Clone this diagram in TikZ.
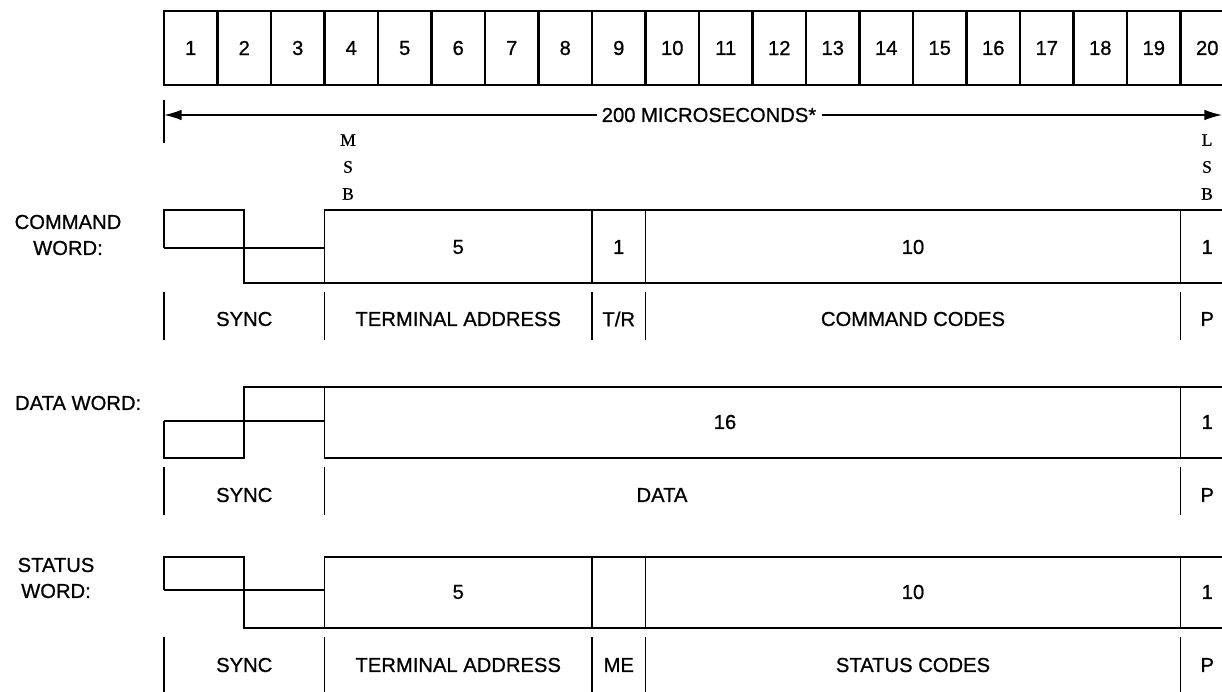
\documentclass[tikz,border=0pt]{standalone}
\usepackage{fontspec}
\setmainfont{Liberation Sans}
\newfontfamily\wordfont{Liberation Sans}[FakeBold=0.8]
\newfontfamily\bitfont{Liberation Serif}[FakeBold=0.6]
\usetikzlibrary{arrows.meta, positioning, calc}
\newcommand{\cellx}{164}
\newcommand{\cellw}{53.5}

\begin{document}
\begin{tikzpicture}[x=0.02cm, y=-0.02cm,
  txt/.style={font=\wordfont\fontsize{11.5}{14.8}\selectfont, inner sep=1pt},
  ltr/.style={font=\bitfont\fontsize{10}{12}\selectfont, inner sep=0pt},
  cell/.style={line width=1.3pt},
  sig/.style={line width=1.1pt},
  bar/.style={line width=1.1pt}]
  \useasboundingbox (0,0) rectangle (1222,692);
  % bit cells
  \foreach \i in {1,...,20}{
    \draw[cell] ({\cellx+(\i-1)*\cellw},11) rectangle +(\cellw,74);
    \node[txt] (bit\i) at ({\cellx+(\i-0.5)*\cellw},48) {\i};
  }
  % word length
  \coordinate (spanL) at (\cellx,115);
  \coordinate (spanR) at (1222,115);
  \draw[bar] (\cellx,100) -- (\cellx,143);
  \draw[line width=0.9pt, {Latex[length=10pt,width=6pt]}-{Latex[length=10pt,width=6pt]}] (spanL) -- (spanR);
  \node[txt, fill=white, inner xsep=3pt] (span) at (709,115) {200 MICROSECONDS*};
  % MSB / LSB
  \foreach \ch/\yy in {M/140, S/167, B/194}
    \node[ltr] (msb\ch) at (348,\yy) {\ch};
  \foreach \ch/\yy in {L/140, S/167, B/194}
    \node[ltr] (lsb\ch) at (1207,\yy) {\ch};

  % command word
  \node[txt, align=center] (cmdlbl) at (68,235) {COMMAND\\WORD:};
  \draw[sig] (\cellx,248) -- (\cellx,210) -- ({\cellx+1.5*\cellw},210) -- ({\cellx+1.5*\cellw},283) -- (1240,283);
  \draw[sig] (\cellx,248) -- ({\cellx+3*\cellw},248);
  \draw[sig] (1240,210) -- ({\cellx+3*\cellw},210) -- ({\cellx+3*\cellw},283);
  \foreach \k in {8,9,19}
    \draw[sig] ({\cellx+\k*\cellw},210) -- ++(0,73);
  \node[txt] (cmdA) at ({\cellx+5.5*\cellw},247) {5};
  \node[txt] (cmdB) at ({\cellx+8.5*\cellw},247) {1};
  \node[txt] (cmdC) at ({\cellx+14*\cellw},247) {10};
  \node[txt] (cmdP) at ({\cellx+19.5*\cellw},247) {1};
  \foreach \k in {0,3,8,9,19}
    \draw[bar] ({\cellx+\k*\cellw},292) -- ++(0,48);
  \node[txt] (cmdSync) at ({\cellx+1.5*\cellw},319) {SYNC};
  \node[txt] (cmdTA) at ({\cellx+5.5*\cellw},319) {TERMINAL ADDRESS};
  \node[txt] (cmdTR) at ({\cellx+8.5*\cellw},319) {T/R};
  \node[txt] (cmdCC) at ({\cellx+14*\cellw},319) {COMMAND CODES};
  \node[txt] (cmdPar) at ({\cellx+19.5*\cellw},319) {P};

  % data word
  \node[txt, anchor=west] (datlbl) at (13,403) {DATA WORD:};
  \draw[sig] (\cellx,421) -- (\cellx,458) -- ({\cellx+1.5*\cellw},458) -- ({\cellx+1.5*\cellw},387) -- (1240,387);
  \draw[sig] (\cellx,421) -- ({\cellx+3*\cellw},421);
  \draw[sig] ({\cellx+3*\cellw},387) -- ({\cellx+3*\cellw},458) -- (1240,458);
  \draw[sig] ({\cellx+19*\cellw},387) -- ++(0,71);
  \node[txt] (datA) at (725,422) {16};
  \node[txt] (datP) at ({\cellx+19.5*\cellw},422) {1};
  \foreach \k in {0,3,19}
    \draw[bar] ({\cellx+\k*\cellw},467) -- ++(0,48);
  \node[txt] (datSync) at ({\cellx+1.5*\cellw},495) {SYNC};
  \node[txt] (datD) at (662,495) {DATA};
  \node[txt] (datPar) at ({\cellx+19.5*\cellw},495) {P};

  % status word
  \node[txt, align=center] (stalbl) at (56,578) {STATUS\\WORD:};
  \draw[sig] (\cellx,590) -- (\cellx,557) -- ({\cellx+1.5*\cellw},557) -- ({\cellx+1.5*\cellw},628) -- (1240,628);
  \draw[sig] (\cellx,590) -- ({\cellx+3*\cellw},590);
  \draw[sig] (1240,557) -- ({\cellx+3*\cellw},557) -- ({\cellx+3*\cellw},628);
  \foreach \k in {8,9,19}
    \draw[sig] ({\cellx+\k*\cellw},557) -- ++(0,71);
  \node[txt] (staA) at ({\cellx+5.5*\cellw},592) {5};
  \node[txt] (staC) at ({\cellx+14*\cellw},592) {10};
  \node[txt] (staP) at ({\cellx+19.5*\cellw},592) {1};
  \foreach \k in {0,3,8,9,19}
    \draw[bar] ({\cellx+\k*\cellw},637) -- ++(0,55);
  \node[txt] (staSync) at ({\cellx+1.5*\cellw},665) {SYNC};
  \node[txt] (staTA) at ({\cellx+5.5*\cellw},665) {TERMINAL ADDRESS};
  \node[txt] (staME) at ({\cellx+8.5*\cellw},665) {ME};
  \node[txt] (staSC) at ({\cellx+14*\cellw},665) {STATUS CODES};
  \node[txt] (staPar) at ({\cellx+19.5*\cellw},665) {P};
\end{tikzpicture}
\end{document}
